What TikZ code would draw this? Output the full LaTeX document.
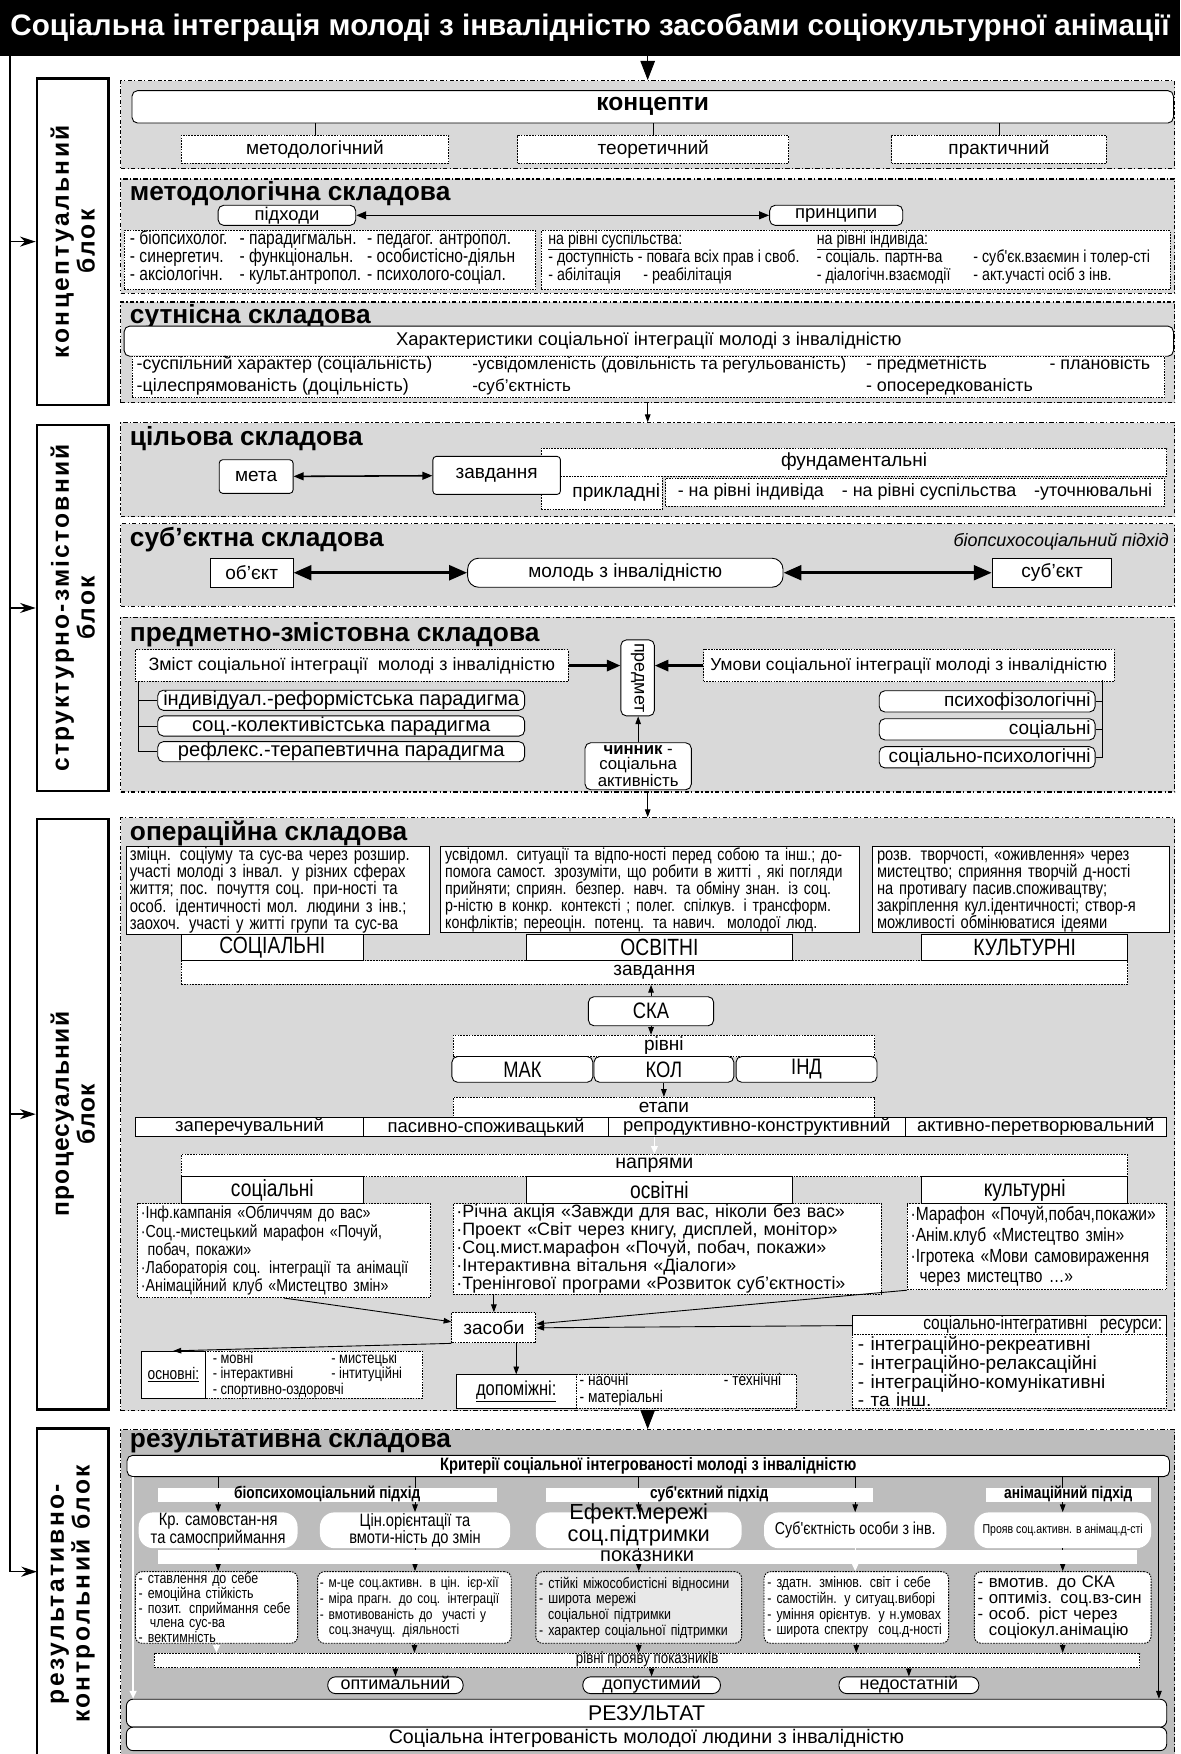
\documentclass[tikz,border=0pt]{standalone}
\usepackage{fontspec}
\setmainfont{Liberation Sans}
\newfontfamily\narrowfont{Liberation Sans}[FakeStretch=0.82]
\usetikzlibrary{arrows.meta}
\definecolor{secgray}{gray}{0.85}
\definecolor{rezgray}{gray}{0.74}
\definecolor{indgray}{gray}{0.91}
\newcommand{\fsz}[2]{\fontsize{#1}{#2}\selectfont}

\begin{document}
\begin{tikzpicture}[x=1pt, y=-1pt,
	secbox/.style={draw, fill=secgray, line width=1pt, dash pattern=on 4pt off 2pt on 1pt off 2pt, inner sep=0},
	blocklab/.style={draw, fill=white, line width=2.2pt, inner sep=0},
	wbox/.style={draw, fill=white, line width=.8pt, inner sep=0},
	rbox/.style={wbox, rounded corners=5pt},
	dbox/.style={draw, fill=white, line width=.8pt, dash pattern=on 1.5pt off 1pt, inner sep=0},
	sechead/.style={anchor=west, inner sep=0, font=\bfseries\fsz{23.5}{23.5}},
	txt/.style={anchor=west, inner sep=0, text height=.72em, text depth=.2em},
	pill/.style={fill=white, rounded corners=13pt, inner sep=0, minimum height=32},
	bar/.style={fill=white, inner sep=0, minimum height=13, text height=9, text depth=2},
	arr/.style={-{Triangle[length=7pt,width=5pt]}, line width=.8pt},
	bigarr/.style={-{Triangle[length=17pt,width=13pt]}, line width=.8pt},
	warr/.style={draw=white, -{Triangle[length=7pt,width=6pt]}, line width=1.2pt},
	larr/.style={-{Stealth[length=14pt,width=9pt]}, line width=1.2pt},
	dblarr/.style={{Triangle[length=9pt,width=7pt]}-{Triangle[length=9pt,width=7pt]}, line width=1.4pt},
	thickdbl/.style={{Triangle[length=16pt,width=13pt]}-{Triangle[length=16pt,width=13pt]}, line width=3pt},
	thickarr/.style={-{Triangle[length=12pt,width=10pt]}, line width=2pt}
	]
	\useasboundingbox (0,0) rectangle (1055,1568);

	\node[fill=black, minimum width=1055, minimum height=50, inner sep=0, text=white, font=\bfseries\fsz{26.5}{26.5}] (title) at (527.5,25) {Соціальна інтеграція молоді з інвалідністю засобами соціокультурної анімації};

	\node[secbox, minimum width=942, minimum height=79] (konc) at (579,111.5) {};
	\node[secbox, minimum width=942, minimum height=102] (metod) at (579,211) {};
	\node[secbox, minimum width=942, minimum height=90] (sutn) at (579,315) {};
	\node[secbox, minimum width=942, minimum height=84] (cil) at (579,420) {};
	\node[secbox, minimum width=942, minimum height=74] (subj) at (579,505) {};
	\node[secbox, minimum width=942, minimum height=156] (predm) at (579,630) {};
	\node[secbox, minimum width=942, minimum height=530] (oper) at (579,996) {};
	\node[secbox, fill=rezgray, minimum width=942, minimum height=291] (rez) at (579,1423.5) {};

	\node[blocklab, minimum width=64, minimum height=292] (b1) at (65,216) {};
	\node[blocklab, minimum width=64, minimum height=327] (b2) at (65,543.5) {};
	\node[blocklab, minimum width=64, minimum height=528] (b3) at (65,996) {};
	\node[blocklab, minimum width=64, minimum height=296] (b4) at (65,1425) {};
	\node[rotate=90, align=center, font=\bfseries\fsz{22}{23}\addfontfeature{LetterSpace=10}] (b1t) at (b1) {концептуальний\\блок};
	\node[rotate=90, align=center, font=\bfseries\fsz{22}{23}\addfontfeature{LetterSpace=9}] (b2t) at (b2) {структурно-змістовний\\блок};
	\node[rotate=90, align=center, font=\bfseries\fsz{22}{23}\addfontfeature{LetterSpace=5}] (b3t) at (b3) {процесуальний\\блок};
	\node[rotate=90, align=center, font=\bfseries\fsz{22}{23}\addfontfeature{LetterSpace=10}] (b4t) at (b4) {результативно-\\контрольний блок};

	\coordinate (ltop) at (9,50);
	\coordinate (lend) at (33,1405);
	\draw[larr] (ltop) |- (lend);
	\foreach \b in {b1,b2,b3}
		\draw[larr] (ltop |- \b) -- (\b.west);

	\node[rbox, minimum width=931, minimum height=29, font=\bfseries\fsz{22}{22}] (kont) at (583.5,95.5) {концепти};
	\node[dbox, minimum width=239, minimum height=25, font=\fsz{17}{17}] (mtd) at (281.5,133.5) {методологічний};
	\node[dbox, minimum width=242, minimum height=25, font=\fsz{17}{17}] (teor) at (584,133.5) {теоретичний};
	\node[dbox, minimum width=192, minimum height=25, font=\fsz{17}{17}] (prak) at (893,133.5) {практичний};
	\foreach \n in {mtd,teor,prak}
		\draw (kont.south -| \n.north) -- (\n.north);
	\draw[bigarr] (konc.north |- title.south) -- (konc.north);

	\node[sechead] (metodh) at (116,173) {методологічна складова};
	\node[rbox, minimum width=123, minimum height=18, font=\fsz{16.5}{16.5}] (pidh) at (256.5,192.5) {підходи};
	\node[rbox, minimum width=119, minimum height=18, font=\fsz{16.5}{16.5}] (prync) at (747.5,192.5) {принципи};
	\draw[dblarr] (pidh) -- (prync);
	\node[dbox, minimum width=368, minimum height=53] (pidl) at (295,232.5) {};
	\node[dbox, minimum width=562, minimum height=53] (prinl) at (765,232.5) {};
	\foreach \x/\y/\t [count=\i] in {116/216/- біопсихолог., 116/232/- синергетич., 116/248/- аксіологічн., 214/216/- парадигмальн., 214/232/- функціональн., 214/248/- культ.антропол., 328/216/- педагог. антропол., 328/232/- особистісно-діяльн, 328/248/- психолого-соціал.}
		\node[txt, font=\narrowfont\fsz{17}{17}] (pa\i) at (\x,\y) {\t};
	\foreach \x/\y/\t [count=\i] in {490/216/\underline{на рівні суспільства:}, 730/216/\underline{на рівні індивіда:}, 490/232/- доступність, 570/232/- повага всіх прав і своб., 730/232/- соціаль. партн-ва, 870/232/- суб'єк.взаємин і толер-сті, 490/248/- абілітація, 575/248/- реабілітація, 730/248/- діалогічн.взаємодії, 870/248/- акт.участі осіб з інв.}
		\node[txt, font=\narrowfont\fsz{15.5}{15.5}] (pr\i) at (\x,\y) {\t};

	\node[sechead] (sutnh) at (116,283) {сутнісна складова};
	\node[rbox, minimum width=938, minimum height=27, font=\fsz{16.5}{16.5}] (khar) at (580,305) {Характеристики соціальної інтеграції молоді з інвалідністю};
	\node[dbox, minimum width=923, minimum height=37] (kharl) at (579.5,337) {};
	\foreach \x/\y/\t [count=\i] in {122/328/-суспільний характер (соціальність), 422/328/\fsz{15.2}{15.2}-усвідомленість (довільність та регульованість), 774/328/- предметність, 938/328/- плановість, 122/347/-цілеспрямованість (доцільність), 422/347/\fsz{15.2}{15.2}-суб'єктність, 774/347/- опосередкованість}
		\node[txt, font=\fsz{16}{16}] (kh\i) at (\x,\y) {\t};
	\draw[arr] (sutn.south) -- (cil.north);

	\node[sechead] (cilh) at (116,392) {цільова складова};
	\node[dbox, minimum width=559, minimum height=25, font=\fsz{17}{17}] (fund) at (763.5,413) {фундаментальні};
	\node[dbox, minimum width=108, minimum height=30, text width=104, align=right, font=\fsz{17}{17}] (prykl) at (538,440.5) {прикладні};
	\node[dbox, minimum width=446, minimum height=25, font=\fsz{16}{16}] (pryklr) at (818,440) {- на рівні індивіда\quad - на рівні суспільства\quad -уточнювальні};
	\node[rbox, rounded corners=3pt, minimum width=66, minimum height=30, font=\fsz{17}{17}] (meta) at (229,426) {мета};
	\node[rbox, rounded corners=3pt, minimum width=114, minimum height=34, font=\fsz{17}{17}] (zavd) at (444,425) {завдання};
	\draw[dblarr] (meta) -- (zavd);

	\node[sechead] (subjh) at (116,482) {суб'єктна складова};
	\node[anchor=east, inner sep=0, font=\itshape\fsz{16}{16}] (biops) at (1045,484) {біопсихосоціальний підхід};
	\node[wbox, minimum width=74, minimum height=26, font=\fsz{17}{17}] (obj) at (225,512) {об'єкт};
	\node[wbox, rounded corners=10pt, minimum width=282, minimum height=26, font=\fsz{17}{17}] (molod) at (559,512) {молодь з інвалідністю};
	\node[wbox, minimum width=107, minimum height=26, font=\fsz{17}{17}] (sbkt) at (940.5,512) {суб'єкт};
	\draw[thickdbl] (obj) -- (molod);
	\draw[thickdbl] (molod) -- (sbkt);

	\node[sechead] (predmh) at (116,567) {предметно-змістовна складова};
	\node[dbox, minimum width=387, minimum height=28, font=\fsz{16}{16}] (zmist) at (314.5,595) {Зміст соціальної інтеграції\ \ молоді з інвалідністю};
	\node[rbox, rotate=-90, minimum width=68, minimum height=30, font=\fsz{16}{16}] (predmet) at (570,606) {предмет};
	\node[dbox, minimum width=367, minimum height=29, font=\fsz{15.5}{15.5}] (umovy) at (812.5,595) {Умови соціальної інтеграції молоді з інвалідністю};
	\draw[thickarr] (zmist.east) -- (zmist.east -| predmet.south);
	\draw[thickarr] (umovy.west) -- (umovy.west -| predmet.north);
	\node[rbox, minimum width=328, minimum height=18, font=\fsz{18}{18}] (par1) at (305,626) {індивідуал.-реформістська парадигма};
	\node[rbox, minimum width=328, minimum height=18, font=\fsz{18}{18}] (par2) at (305,649) {соц.-колективістська парадигма};
	\node[rbox, minimum width=328, minimum height=18, font=\fsz{18}{18}] (par3) at (305,672) {рефлекс.-терапевтична парадигма};
	\coordinate (brl) at (124,609);
	\draw (brl) |- (par3.west);
	\draw (brl |- par1) -- (par1.west);
	\draw (brl |- par2) -- (par2.west);
	\node[rbox, minimum width=193, minimum height=19, text width=185, align=right, font=\fsz{17}{17}] (cnd1) at (882.5,627) {психофізологічні};
	\node[rbox, minimum width=193, minimum height=19, text width=185, align=right, font=\fsz{17}{17}] (cnd2) at (882.5,652) {соціальні};
	\node[rbox, minimum width=193, minimum height=19, text width=185, align=right, font=\fsz{17}{17}] (cnd3) at (882.5,677) {соціально-психологічні};
	\coordinate (brr) at (985,608);
	\draw (brr) |- (cnd3.east);
	\draw (brr |- cnd1) -- (cnd1.east);
	\draw (brr |- cnd2) -- (cnd2.east);
	\node[rbox, minimum width=95, minimum height=42, align=center, font=\fsz{15}{13.5}] (chynnyk) at (570.5,685) {\textbf{чинник} -\\соціальна\\активність};
	\draw[arr] (chynnyk) -- (chynnyk |- predmet.east);
	\draw[arr] (predm.south) -- (oper.north);

	\node[sechead] (operh) at (116,745) {операційна складова};
	\node[wbox, minimum width=271, minimum height=79, text width=265, align=left, font=\narrowfont\fsz{16.2}{15.2}] (tl) at (248.5,796) {зміцн. соціуму та сус-ва через розшир.\\участі молоді з інвал. у різних сферах\\життя; пос. почуття соц. при-ності та\\особ. ідентичності мол. людини з інв.;\\заохоч. участі у житті групи та сус-ва};
	\node[wbox, minimum width=374, minimum height=77, text width=366, align=left, font=\narrowfont\fsz{15.5}{15.2}] (tm) at (581,795.5) {усвідомл. ситуації та відпо-ності перед собою та інш.; до-\\помога самост. зрозуміти, що робити в житті , які погляди\\прийняти; сприян. безпер. навч. та обміну знан. із соц.\\р-ністю в конкр. контексті ; полег. спілкув. і трансформ.\\конфліктів; переоцін. потенц. та навич.\ \ молодої люд.};
	\node[wbox, minimum width=265, minimum height=77, text width=257, align=left, font=\narrowfont\fsz{16}{15.2}] (tr) at (912.5,795.5) {розв. творчості, «оживлення» через\\мистецтво; сприяння творчій д-ності\\на противагу пасив.споживацтву;\\закріплення кул.ідентичності; створ-я\\можливості обмінюватися ідеями};
	\node[dbox, minimum width=846, minimum height=21, font=\fsz{17}{17}] (zavd2) at (585,869.5) {завдання};
	\node[wbox, minimum width=163, minimum height=24, font=\narrowfont\fsz{21}{21}] (kats) at (243.5,847) {СОЦІАЛЬНІ};
	\node[wbox, minimum width=237, minimum height=24, font=\narrowfont\fsz{21}{21}] (kato) at (589.5,847) {ОСВІТНІ};
	\node[wbox, minimum width=184, minimum height=24, font=\narrowfont\fsz{21}{21}] (katk) at (916,847) {КУЛЬТУРНІ};
	\node[rbox, minimum width=112, minimum height=26, font=\narrowfont\fsz{20}{20}] (ska) at (582,904) {СКА};
	\node[dbox, minimum width=377, minimum height=19, font=\fsz{17}{17}] (rivni) at (593.5,935) {рівні};
	\node[rbox, minimum width=126, minimum height=23, font=\narrowfont\fsz{20}{20}] (mak) at (467,956) {МАК};
	\node[rbox, minimum width=125, minimum height=23, font=\narrowfont\fsz{20}{20}] (kol) at (593.5,956) {КОЛ};
	\node[rbox, minimum width=126, minimum height=23, font=\narrowfont\fsz{20}{20}] (ind) at (721,956) {ІНД};
	\draw[arr] (ska) -- (ska |- zavd2.south);
	\draw[arr] (ska) -- (ska |- rivni.north);
	\node[dbox, minimum width=377, minimum height=18, font=\fsz{17}{17}] (etapy) at (593.5,990) {етапи};
	\draw[arr] (kol) -- (kol |- etapy.north);
	\node[wbox, minimum width=204, minimum height=17, font=\fsz{16.5}{16.5}] (st1) at (223,1007.5) {заперечувальний};
	\node[wbox, minimum width=219, minimum height=17, font=\fsz{16.5}{16.5}] (st2) at (434.5,1007.5) {пасивно-споживацький};
	\node[wbox, minimum width=265, minimum height=17, font=\fsz{16.5}{16.5}] (st3) at (676.5,1007.5) {репродуктивно-конструктивний};
	\node[wbox, minimum width=234, minimum height=17, font=\fsz{16.5}{16.5}] (st4) at (926,1007.5) {активно-перетворювальний};
	\node[dbox, minimum width=846, minimum height=20, font=\fsz{17.5}{17.5}] (napr) at (585,1042) {напрями};
	\draw[warr] (napr.north |- st3.south) -- (napr.north);
	\node[wbox, minimum width=163, minimum height=24, font=\narrowfont\fsz{21}{21}] (nsoc) at (243.5,1064) {соціальні};
	\node[wbox, minimum width=237, minimum height=24, font=\narrowfont\fsz{21}{21}] (nosv) at (589.5,1064) {освітні};
	\node[wbox, minimum width=184, minimum height=24, font=\narrowfont\fsz{21}{21}] (nkult) at (916,1064) {культурні};
	\node[dbox, minimum width=262, minimum height=84, text width=256, align=left, font=\narrowfont\fsz{15.5}{16.2}] (ll) at (254,1118) {·Інф.кампанія «Обличчям до вас»\\·Соц.-мистецький марафон «Почуй,\\\hspace*{6pt}побач, покажи»\\·Лабораторія соц. інтеграції та анімації\\·Анімаційний клуб «Мистецтво змін»};
	\node[dbox, minimum width=383, minimum height=81, text width=377, align=left, font=\fsz{16}{16.2}] (lm) at (596.5,1116.5) {·Річна акція «Завжди для вас, ніколи без вас»\\·Проект «Світ через книгу, дисплей, монітор»\\·Соц.мист.марафон «Почуй, побач, покажи»\\·Інтерактивна вітальня «Діалоги»\\·Тренінгової програми «Розвиток суб'єктності»};
	\node[dbox, minimum width=232, minimum height=77, text width=226, align=left, font=\narrowfont\fsz{17}{18.5}] (lr) at (927,1114.5) {·Марафон «Почуй,побач,покажи»\\·Анім.клуб «Мистецтво змін»\\·Ігротека «Мови самовираження\\\hspace*{8pt}через мистецтво …»};

	\node[dbox, minimum width=75, minimum height=27, font=\fsz{17}{17}] (zasoby) at (441.5,1187) {засоби};
	\node[wbox, minimum width=58, minimum height=42, font=\narrowfont\fsz{15}{15}] (osnl) at (155,1229) {\underline{основні:}};
	\node[dbox, minimum width=194, minimum height=42] (osnd) at (281,1229) {};
	\foreach \x/\y/\t [count=\i] in {190/1216/- мовні, 296/1216/- мистецькі, 190/1230/- інтерактивні, 296/1230/- інтитуційні, 190/1244/- спортивно-оздоровчі}
		\node[txt, font=\narrowfont\fsz{14}{14}] (os\i) at (\x,\y) {\t};
	\node[wbox, minimum width=107, minimum height=30, font=\narrowfont\fsz{18}{18}] (dopl) at (461.5,1244) {\underline{допоміжні:}};
	\node[dbox, minimum width=197, minimum height=30] (dopd) at (613.5,1244) {};
	\foreach \x/\y/\t [count=\i] in {518/1236/- наочні, 647/1236/- технічні, 518/1251/- матеріальні}
		\node[txt, font=\narrowfont\fsz{15}{15}] (dp\i) at (\x,\y) {\t};
	\node[wbox, minimum width=281, minimum height=16, text width=273, align=right, font=\narrowfont\fsz{17}{17}] (resl) at (902.5,1185) {\underline{соціально-інтегративні\ \ ресурси:}};
	\node[dbox, minimum width=281, minimum height=66, text width=271, align=left, font=\fsz{17}{16}] (resd) at (902.5,1226) {- інтеграційно-рекреативні\\- інтеграційно-релаксаційні\\- інтеграційно-комунікативні\\- та інш.};
	\draw[arr] (ll.south) -- (zasoby);
	\draw[arr] (zasoby.north |- lm.south) -- (zasoby.north);
	\draw[arr] (lr.south west) -- (zasoby);
	\draw[arr] (resl.west) -- (zasoby.east);
	\draw[arr] (zasoby.south west) -- (osnl.north);
	\draw[arr] (dopl.north |- zasoby.south) -- (dopl.north);
	\draw[bigarr] (oper.south) -- (rez.north);

	\node[sechead] (rezh) at (116,1290) {результативна складова};
	\node[rbox, minimum width=932, minimum height=19, font=\narrowfont\bfseries\fsz{16}{16}] (kryt) at (579.5,1310.5) {Критерії соціальної інтегрованості молоді з інвалідністю};
	\node[pill, minimum width=142, align=center, font=\narrowfont\fsz{16}{14}] (kr1) at (195,1368) {Кр. самовстан-ня\\та самосприймання};
	\node[pill, minimum width=170, align=center, font=\narrowfont\fsz{16}{14}] (kr2) at (371,1368) {Цін.орієнтації та\\вмоти-ність до змін};
	\node[pill, minimum width=184] (kr3) at (571,1368) {};
	\node[pill, minimum width=163, font=\narrowfont\fsz{15.5}{15.5}] (kr4) at (764.5,1368) {Суб'єктність особи з інв.};
	\node[pill, minimum width=158, font=\narrowfont\fsz{11.5}{11.5}] (kr5) at (950,1368) {Прояв соц.активн. в анімац.д-сті};
	\foreach \k in {kr1,kr2,kr3,kr4,kr5}
		\draw[arr] (\k |- kryt.south) -- (\k.north);
	\node[bar, minimum width=303, font=\narrowfont\bfseries\fsz{15}{15}] (bar1) at (292.5,1336.5) {біопсихомоціальний підхід};
	\node[bar, minimum width=292, font=\narrowfont\bfseries\fsz{15}{15}] (bar2) at (634,1336.5) {суб'єктний підхід};
	\node[bar, minimum width=148, font=\narrowfont\bfseries\fsz{15}{15}] (bar3) at (955,1336.5) {анімаційний підхід};

	\node[dbox, rounded corners=6pt, minimum width=145, minimum height=64, text width=139, align=left, font=\narrowfont\fsz{13.5}{12.3}] (ind1) at (193.5,1437) {- ставлення до себе\\- емоційна стійкість\\- позит. сприймання себе\\\hspace*{10pt}члена сус-ва\\- вектимність};
	\node[dbox, rounded corners=6pt, minimum width=173, minimum height=64, text width=169, align=left, font=\narrowfont\fsz{13}{14}] (ind2) at (370.5,1437) {- м-це соц.активн. в цін. ієр-хії\\- міра прагн. до соц. інтеграції\\- вмотивованість до\ \ участі у\\\hspace*{8pt}соц.значущ. діяльності};
	\node[dbox, rounded corners=6pt, fill=indgray, minimum width=184, minimum height=64, text width=178, align=left, font=\narrowfont\fsz{13.5}{14}] (ind3) at (571,1437) {- стійкі міжособистісні відносини\\- широта мережі\\\hspace*{8pt}соціальної підтримки\\- характер соціальної підтримки};
	\node[dbox, rounded corners=6pt, minimum width=165, minimum height=64, text width=159, align=left, font=\narrowfont\fsz{13.5}{14}] (ind4) at (765.5,1437) {- здатн. змінюв. світ і себе\\- самостійн. у ситуац.виборі\\- уміння орієнтув. у н.умовах\\- широта спектру\ \ соц.д-ності};
	\node[dbox, rounded corners=6pt, minimum width=158, minimum height=64, text width=152, align=left, font=\fsz{15}{14.5}] (ind5) at (950,1437) {- вмотив. до СКА\\- оптиміз. соц.вз-син\\- особ. ріст через\\\hspace*{10pt}соціокул.анімацію};
	\foreach \k/\i in {kr1/ind1, kr2/ind2, kr3/ind3, kr5/ind5}
		\draw[arr] (\k.south) -- (\k.south |- \i.north);
	\draw[warr] (kr4.south) -- (kr4.south |- ind4.north);
	\node[bar, minimum width=875, font=\fsz{18}{18}] (pokaz) at (578.5,1392) {показники};
	\node[align=center, inner sep=0, font=\fsz{19.5}{17}] (kr3t) at (571,1363) {Ефект.мережі\\соц.підтримки};

	\node[dbox, minimum width=881, minimum height=13, text height=8, text depth=2, font=\narrowfont\fsz{14.5}{14.5}] (rivpr) at (578.5,1484.5) {рівні прояву показників};
	\draw[warr] (ind1.south) -- (ind1.south |- rivpr.north);
	\foreach \i in {ind2,ind3,ind4,ind5}
		\draw[arr] (\i.south) -- (\i.south |- rivpr.north);
	\node[rbox, rounded corners=7pt, minimum width=121, minimum height=15, text height=9, text depth=2, font=\fsz{16}{16}] (opt) at (353.5,1506.5) {оптимальний};
	\node[rbox, rounded corners=7pt, minimum width=123, minimum height=15, text height=9, text depth=2, font=\fsz{16}{16}] (dop) at (582.5,1506.5) {допустимий};
	\node[rbox, rounded corners=7pt, minimum width=125, minimum height=15, text height=9, text depth=2, font=\fsz{16}{16}] (nedost) at (812.5,1506.5) {недостатній};
	\foreach \l in {opt,dop,nedost}
		\draw[arr] (\l.north |- rivpr.south) -- (\l.north);

	\node[rbox, rounded corners=6pt, minimum width=930, minimum height=25, font=\fsz{19}{19}] (rezult) at (578,1531.5) {РЕЗУЛЬТАТ};
	\node[rbox, rounded corners=6pt, minimum width=930, minimum height=21, font=\fsz{17.5}{17.5}] (sotsint) at (578,1554.5) {Соціальна інтегрованість молодої людини з інвалідністю};
	\coordinate (wl) at (119,1320);
	\coordinate (bl) at (1036,1320);
	\draw[warr, line width=1.6pt] (wl) -- (wl |- rezult.north);
	\draw[arr] (bl) -- (bl |- rezult.north);
\end{tikzpicture}
\end{document}
